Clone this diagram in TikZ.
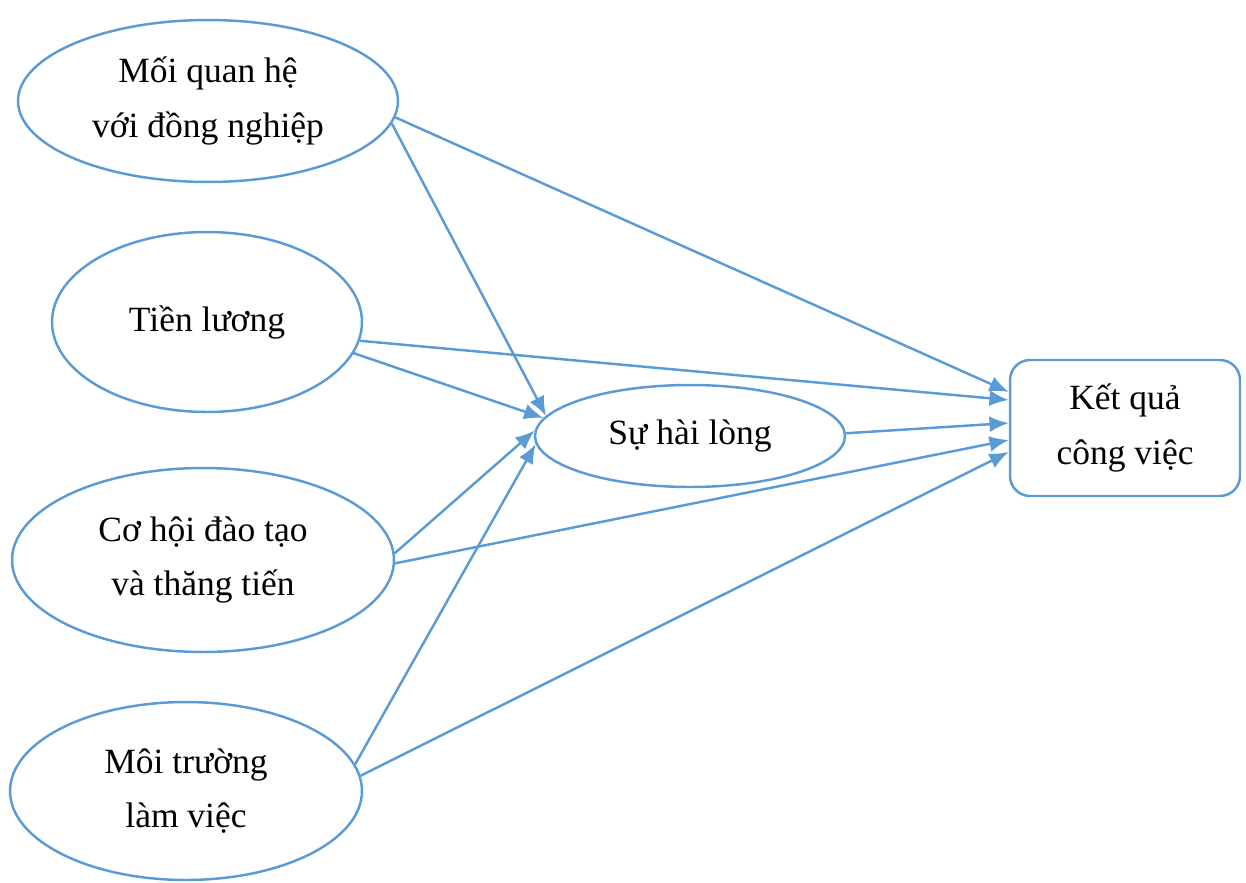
\documentclass[tikz,border=0pt]{standalone}
\usepackage{fontspec}
\setmainfont{Liberation Serif}
\usetikzlibrary{shapes.geometric,arrows.meta}
\definecolor{linkblue}{HTML}{5B9BD5}
\tikzset{
  factor/.style={ellipse, draw=linkblue, line width=1.4pt, inner sep=0pt, align=center,
    font=\fontsize{20.2}{31}\selectfont},
  outcome/.style={rectangle, rounded corners=0.4cm, draw=linkblue, line width=1.4pt, inner sep=0pt,
    align=center, font=\fontsize{20.2}{31}\selectfont},
  link/.style={draw=linkblue, line width=1.4pt, -{Latex[length=11pt,width=9pt]}}
}
\begin{document}
\begin{tikzpicture}[x=0.02cm, y=-0.02cm]
\useasboundingbox (0,0) rectangle (1246,882);

% factors
\node[factor, minimum width=7.6cm, minimum height=3.24cm] (e1) at (208,101) {Mối quan hệ\\với đồng nghiệp};
\node[factor, minimum width=6.2cm, minimum height=3.6cm] (e2) at (207,322) {Tiền lương};
\node[factor, minimum width=7.64cm, minimum height=3.68cm] (e3) at (203,560) {Cơ hội đào tạo\\và thăng tiến};
\node[factor, minimum width=7.04cm, minimum height=3.56cm] (e4) at (186,791) {Môi trường\\làm việc};

% mediator and outcome
\node[factor, minimum width=6.2cm, minimum height=2.04cm] (shl) at (690,436) {Sự hài lòng};
\node[outcome, minimum width=4.6cm, minimum height=2.72cm] (kq) at (1125,428) {Kết quả\\công việc};

% paths to the outcome
\draw[link] (e1.-5.4) -- ([yshift=0.72cm]kq.west);
\draw[link] (e2.-7.5) -- ([yshift=0.56cm]kq.west);
\draw[link] (shl.1.1) -- ([yshift=0.10cm]kq.west);
\draw[link] (e3.-1.5) -- ([yshift=-0.24cm]kq.west);
\draw[link] (e4.5.3) -- ([yshift=-0.48cm]kq.west);

% paths to satisfaction
\draw[link] (e1.-7.7) -- (shl.172.3);
\draw[link] (e2.-12.4) -- (shl.173.9);
\draw[link] (e3.2.1) -- (shl.178.5);
\draw[link] (e4.9.8) -- (shl.183.5);
\end{tikzpicture}
\end{document}
